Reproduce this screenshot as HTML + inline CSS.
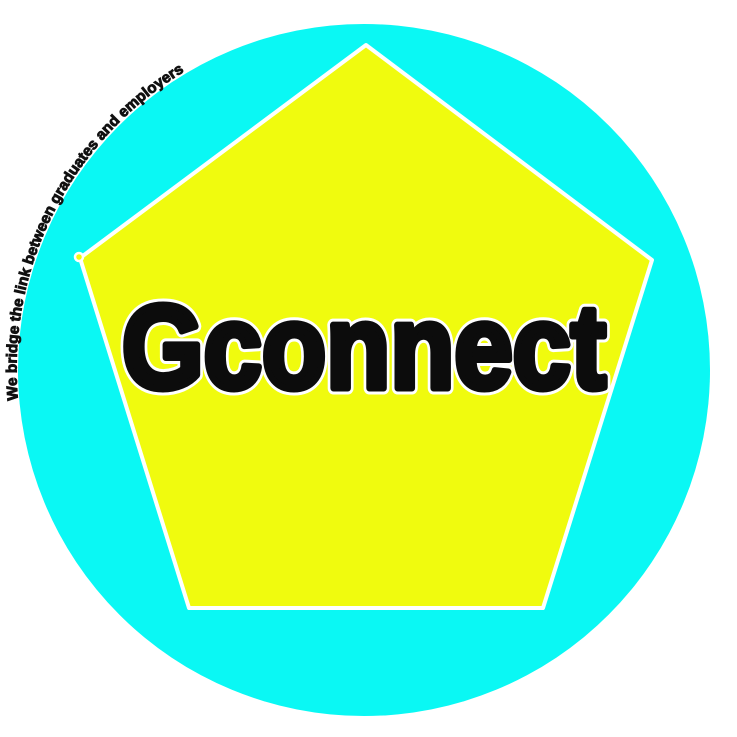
<!DOCTYPE html>
<html><head><meta charset="utf-8"><style>
html,body{margin:0;padding:0;background:#fff;width:737px;height:737px;overflow:hidden}
</style></head><body>
<svg width="737" height="737" viewBox="0 0 737 737">
  <circle cx="364" cy="370" r="346" fill="#0af8f4"/>
  <polygon points="366,45 652,260 543,608 189,608 80,258" fill="#f0fb0e" stroke="#ffffff" stroke-width="4" stroke-linejoin="round"/>
  <circle cx="79" cy="257" r="4" fill="#f0fb0e" stroke="#fff" stroke-width="2.5"/>
  <defs><path id="arc" d="M 18 400 A 347 347 0 0 1 187 70"/></defs>
  <text font-family="Liberation Sans, sans-serif" font-weight="bold" font-size="15" fill="#111" stroke="#111" stroke-width="0.9"><textPath href="#arc" textLength="388" lengthAdjust="spacingAndGlyphs">We bridge the link between graduates and employers</textPath></text>
  <text x="364" y="388" text-anchor="middle" font-family="Liberation Sans, sans-serif" font-weight="900" font-size="119" fill="#0c0c0c" stroke="#ffffff" stroke-width="13" stroke-linejoin="round" textLength="484" lengthAdjust="spacingAndGlyphs">Gconnect</text>
  <text x="364" y="388" text-anchor="middle" font-family="Liberation Sans, sans-serif" font-weight="900" font-size="119" fill="#0c0c0c" stroke="#0c0c0c" stroke-width="7" stroke-linejoin="round" textLength="484" lengthAdjust="spacingAndGlyphs">Gconnect</text>
</svg>
</body></html>
